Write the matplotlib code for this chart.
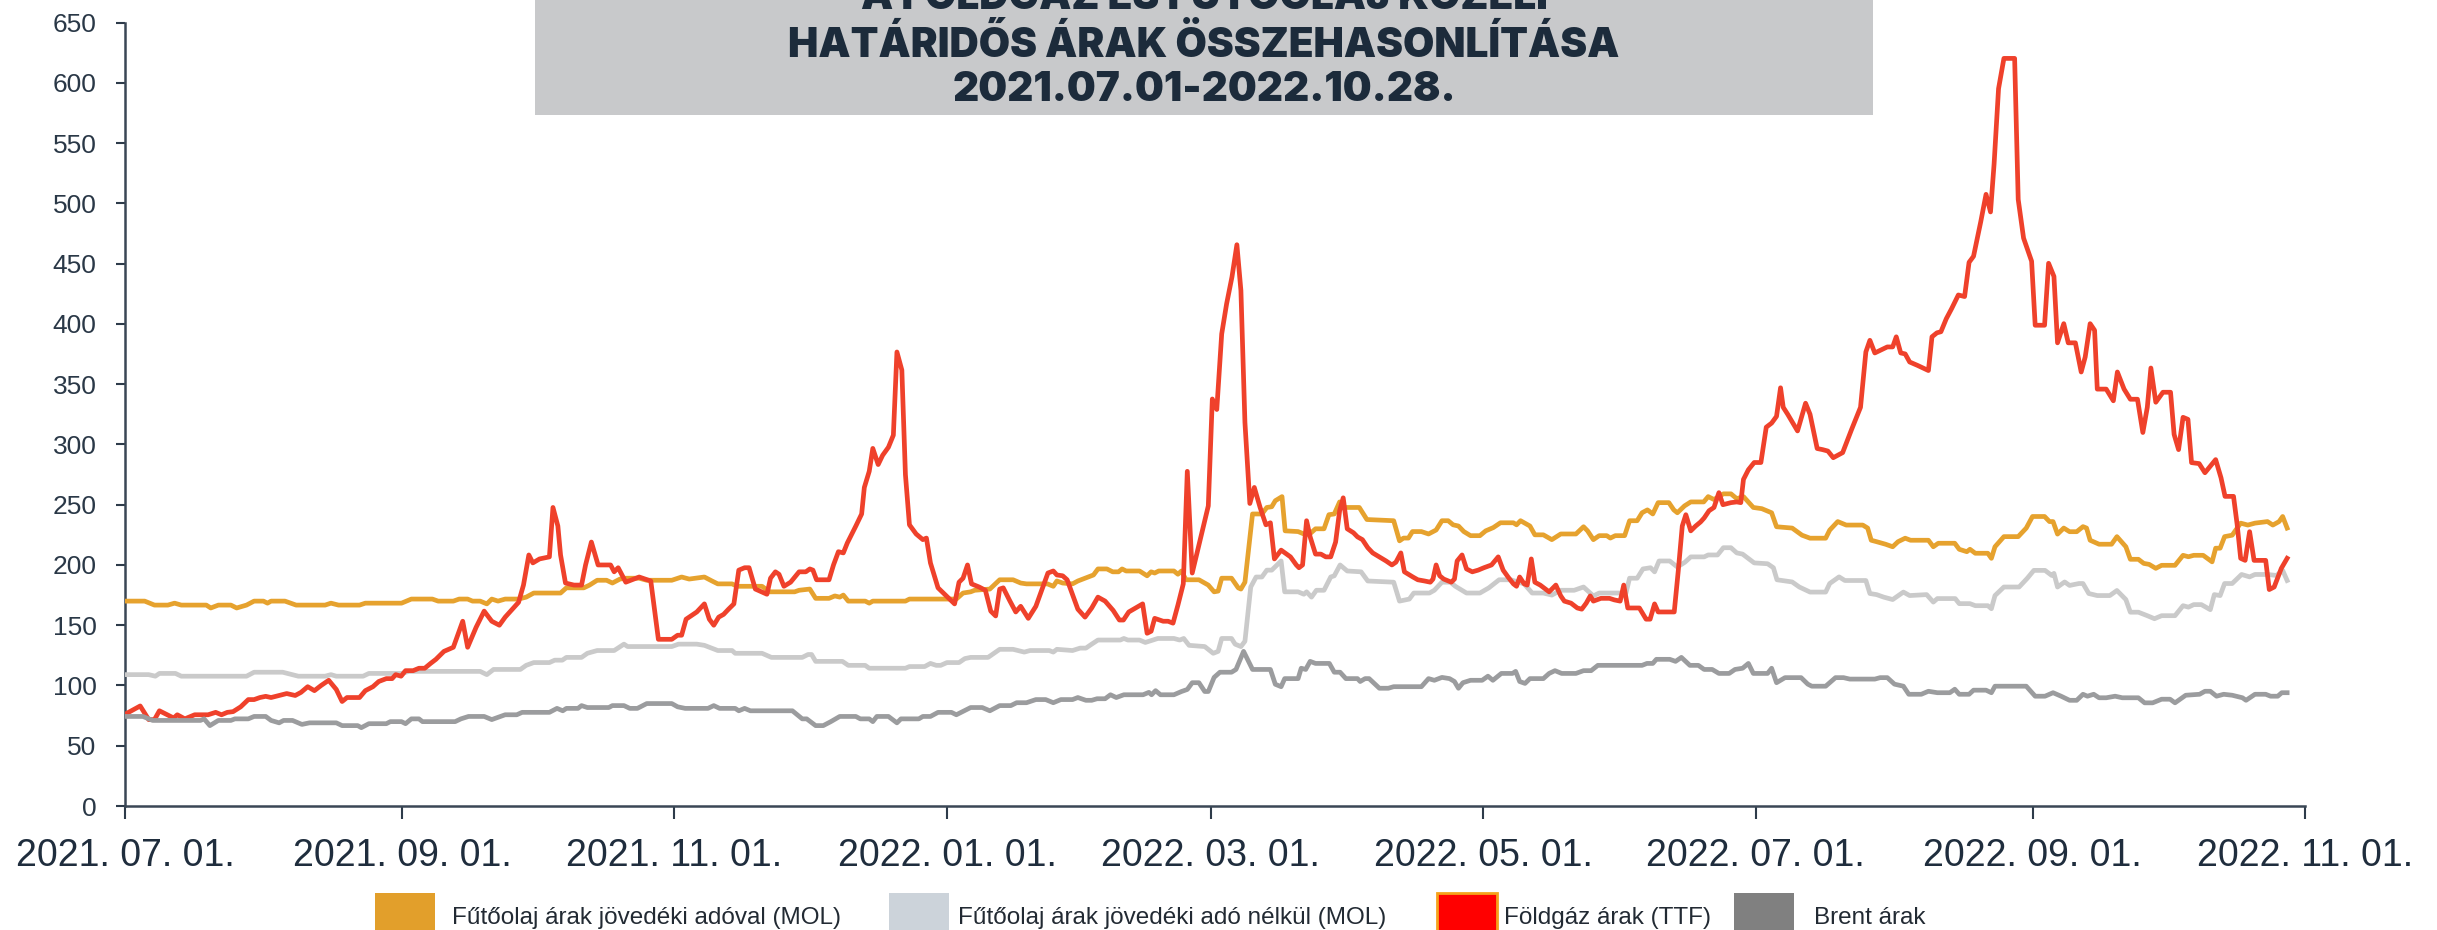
import numpy as np
import matplotlib
matplotlib.use('Agg')
import matplotlib.pyplot as plt
from matplotlib.patches import Rectangle
from matplotlib import font_manager

# x values are days since 2021-07-01
start = np.datetime64('2021-07-01')
tick_dates = ['2021-07-01', '2021-09-01', '2021-11-01', '2022-01-01', '2022-03-01',
              '2022-05-01', '2022-07-01', '2022-09-01', '2022-11-01']
tick_labels = ['2021. 07. 01.', '2021. 09. 01.', '2021. 11. 01.', '2022. 01. 01.', '2022. 03. 01.',
               '2022. 05. 01.', '2022. 07. 01.', '2022. 09. 01.', '2022. 11. 01.']
y_ticks = list(range(0, 651, 50))

title_lines = ['A FÖLDGÁZ ÉS FŰTŐOLAJ KÖZELI',
               'HATÁRIDŐS ÁRAK ÖSSZEHASONLÍTÁSA',
               '2021.07.01-2022.10.28.']

labels = ['Fűtőolaj árak jövedéki adóval (MOL)',
          'Fűtőolaj árak jövedéki adó nélkül (MOL)',
          'Földgáz árak (TTF)',
          'Brent árak']

# (day, value) vertices
oil_tax = [(0, 170), (4.4, 170), (6.6, 166.7), (9.6, 166.7), (11.1, 168.3), (12.6, 166.7), (18.2, 166.7),
           (19.2, 164.3), (20.9, 166.7), (23.7, 166.7), (25.0, 164.3), (27.2, 166.7), (28.9, 170), (31.0, 170),
           (31.9, 168.3), (32.7, 170), (35.8, 170), (38.3, 166.7), (44.8, 166.7), (46.1, 168.3), (47.8, 166.7),
           (52.5, 166.7), (53.8, 168.3), (61.9, 168.3), (64.1, 171.7), (68.8, 171.7), (70.1, 170), (73.5, 170),
           (74.8, 171.7), (76.7, 171.7), (77.8, 170), (79.5, 170), (81.0, 167.7), (82.1, 171.7), (83.5, 170),
           (85.1, 171.7), (88.1, 171.7), (89.8, 173.3), (91.5, 176.7), (97.5, 176.7), (98.8, 181), (102.7, 181),
           (104.0, 183.3), (105.7, 187.3), (107.8, 187.3), (109.1, 185), (110.8, 188.3), (112.1, 189), (115.1, 189),
           (116.8, 187.3), (122.4, 187.3), (124.6, 190), (126.3, 188.3), (129.7, 190), (131.4, 186.7),
           (132.7, 184.3), (135.9, 184.3), (137.0, 182.3), (142.6, 182.3), (144.3, 177.7), (149.9, 177.7),
           (150.9, 179), (153.3, 180), (154.6, 172.3), (157.6, 172.3), (158.9, 174.3), (160.0, 173.3),
           (160.8, 175), (161.9, 170), (165.7, 170), (166.6, 168.3), (167.4, 170), (174.7, 170), (175.6, 171.7),
           (186.1, 171.7), (187.6, 176.7), (189.3, 177.7), (190.2, 179), (193.6, 180), (195.8, 187.7),
           (198.8, 187.7), (200.5, 185), (201.8, 184.3), (206.5, 184.3), (207.8, 182.3), (208.6, 186.7),
           (209.9, 185), (212.1, 184.3), (213.3, 186.7), (216.8, 191.7), (217.8, 196.7), (219.8, 196.7),
           (221.1, 194.3), (222.4, 194.3), (223.2, 196.7), (224.1, 195), (227.1, 195), (228.8, 191),
           (229.7, 194.3), (230.5, 193.3), (231.4, 195), (234.8, 195), (235.7, 192.3), (236.5, 195),
           (237.5, 187.7), (240.4, 187.7), (242.5, 183.3), (243.8, 177.7), (244.7, 178.3), (245.5, 189),
           (247.7, 189), (249.2, 181), (249.8, 180), (250.7, 185.7), (252.4, 242.3), (254.5, 242.3),
           (255.6, 247.7), (256.7, 248.3), (257.5, 253.3), (259.0, 256.7), (259.7, 228.3), (262.6, 227.7),
           (263.9, 225.7), (265.2, 225.7), (266.5, 230), (268.4, 230), (269.5, 241.7), (270.7, 242.3),
           (271.9, 252.3), (273.1, 247.7), (276.3, 247.7), (278.0, 237.7), (284.0, 236.7), (285.3, 220),
           (286.2, 222.3), (287.3, 222.3), (288.2, 227.7), (290.2, 227.7), (291.8, 225.7), (293.5, 229),
           (294.8, 236.7), (296.2, 236.7), (297.3, 233.3), (298.5, 232.3), (299.7, 227.7), (301.2, 224.3),
           (303.3, 224.3), (304.6, 228.3), (306.3, 231), (307.9, 235), (310.8, 235), (311.5, 233.3),
           (312.4, 236.7), (314.5, 232.3), (315.6, 225), (317.5, 225), (319.4, 221), (321.4, 225.7),
           (324.8, 225.7), (326.5, 231.7), (327.4, 228.3), (328.7, 221), (330.0, 224.3), (331.7, 224.3),
           (332.5, 222.3), (333.6, 224.3), (335.7, 224.3), (336.8, 236.7), (338.5, 236.7), (339.6, 243.3),
           (340.8, 245.7), (342.0, 242.3), (343.2, 251.7), (345.6, 251.7), (346.7, 245.7), (347.5, 243.3),
           (349.1, 249), (350.5, 252.3), (353.4, 252.3), (354.4, 256.7), (355.7, 254.3), (357.8, 259),
           (359.5, 259), (360.8, 255), (362.3, 256.7), (364.5, 247.7), (366.4, 246.7), (368.6, 243.3),
           (369.7, 231.7), (373.2, 230.6), (375.4, 224.7), (377.2, 222.2), (380.7, 222.2), (381.6, 228.9),
           (383.4, 236), (385.3, 233.1), (389.0, 233.1), (390.1, 230.6), (390.9, 220.5), (392.1, 219.3),
           (394.1, 217.2), (395.7, 215.1), (396.9, 219.3), (398.5, 222.2), (399.7, 220.5), (403.7, 220.5),
           (404.8, 215.1), (405.9, 218), (409.6, 218), (410.6, 213), (412.3, 211), (413.0, 213), (414.2, 209.7),
           (417.0, 209.7), (417.8, 205.5), (418.6, 215.1), (420.6, 223.5), (423.8, 223.5), (425.6, 230.6),
           (427.0, 240.2), (429.7, 240.2), (430.8, 236), (431.6, 236), (432.6, 225.6), (434.0, 230.6),
           (435.3, 227.6), (436.9, 227.6), (438.3, 231.8), (439.1, 230.6), (439.9, 220.5), (441.9, 217.2),
           (444.7, 217.2), (445.9, 223.5), (447.9, 215.1), (448.9, 204.7), (450.7, 204.7), (451.9, 201.3),
           (453.1, 200.5), (454.6, 197.2), (455.9, 199.7), (458.9, 199.7), (460.7, 208), (461.9, 206.8),
           (463.1, 208), (465.2, 208), (467.2, 202.6), (468.0, 213.9), (469.0, 213.9), (470.0, 223.5),
           (471.7, 224.7), (473.6, 234.7), (475.2, 233.1), (476.8, 234.7), (479.6, 236), (480.8, 233.1),
           (482.2, 236), (483.0, 240.2), (484.0, 230.6)]

oil_notax = [(0, 109), (5.3, 109), (6.8, 107.7), (7.7, 110), (11.3, 110), (12.6, 107.7), (27.2, 107.7),
             (28.9, 111), (35.3, 111), (38.8, 107.7), (44.8, 107.7), (46.1, 109), (47.3, 107.7), (53.3, 107.7),
             (54.6, 110), (61.9, 110), (63.6, 111.7), (79.5, 111.7), (81.0, 109), (82.5, 113.3), (88.5, 113.3),
             (89.8, 116.7), (91.5, 119), (95.0, 119), (96.2, 121), (97.9, 121), (98.8, 123.3), (102.2, 123.3),
             (103.5, 126.7), (105.7, 129), (109.5, 129), (111.7, 134.3), (112.5, 132.3), (122.4, 132.3),
             (123.9, 134.3), (128.0, 134.3), (129.7, 133.3), (132.7, 129), (135.9, 129), (136.6, 126.7),
             (142.6, 126.7), (144.7, 123.3), (151.6, 123.3), (152.9, 125.7), (153.7, 125.7), (154.6, 120),
             (160.6, 120), (161.9, 116.7), (165.7, 116.7), (166.6, 114.3), (174.7, 114.3), (175.6, 115.7),
             (179.0, 115.7), (180.3, 118.3), (181.6, 116.7), (182.6, 116.7), (184.0, 119), (186.7, 119),
             (188.0, 122.3), (189.3, 123.3), (193.2, 123.3), (195.8, 130), (198.8, 130), (201.3, 127.7),
             (202.6, 129), (206.9, 129), (207.8, 127.7), (208.6, 130), (212.1, 129), (213.8, 131), (215.1, 131),
             (216.4, 134.3), (217.8, 137.7), (222.8, 137.7), (223.6, 139), (224.5, 137.7), (227.1, 137.7),
             (228.4, 135.7), (231.2, 139), (234.8, 139), (236.1, 137.7), (237.0, 139), (238.2, 133.3),
             (241.7, 132.3), (243.6, 126.7), (244.7, 128.3), (245.5, 139), (247.7, 139), (248.5, 134.3),
             (249.8, 132.3), (250.7, 136.7), (252.0, 181.7), (253.2, 190), (254.5, 190), (255.6, 195.7),
             (256.7, 195.7), (258.8, 203.3), (259.6, 177.7), (262.6, 177.7), (263.9, 175.7), (264.5, 177.7),
             (265.6, 173.3), (266.7, 179), (268.4, 179), (269.9, 190), (270.7, 191), (272.0, 200), (273.6, 195),
             (276.7, 194.3), (278.2, 186.7), (284.0, 185.7), (285.3, 170), (287.5, 171.7), (288.5, 176.7),
             (292.0, 176.7), (293.1, 179), (294.8, 185.7), (296.7, 185.7), (297.8, 182.3), (300.3, 176.7),
             (303.3, 176.7), (305.3, 181), (307.6, 187.7), (310.2, 187.7), (313.2, 184.3), (315.0, 176.7),
             (317.5, 176.7), (319.4, 175), (321.4, 179), (324.4, 179), (326.5, 181.7), (328.7, 174.3),
             (330.0, 176.7), (336.0, 176.7), (336.8, 189), (338.5, 189), (339.8, 196.7), (341.5, 197.7),
             (342.4, 194.3), (343.4, 203.3), (345.8, 203.3), (347.5, 198.3), (349.2, 202.3), (350.5, 206.7),
             (353.5, 206.7), (354.4, 208.3), (356.5, 208.3), (357.8, 214.3), (359.5, 214.3), (360.8, 210),
             (362.1, 209), (364.7, 201.7), (367.7, 201), (369.0, 197.7), (369.8, 187.7), (373.2, 185.9),
             (374.8, 181.7), (377.2, 177.5), (380.7, 177.5), (381.6, 184.6), (383.7, 190.1), (385.0, 187.1),
             (389.7, 187.1), (390.6, 176.3), (392.1, 175.4), (393.7, 173.3), (395.7, 171.3), (397.3, 175.4),
             (398.1, 177.5), (399.5, 174.6), (403.3, 175.4), (404.8, 169.2), (405.7, 172.1), (409.7, 172.1),
             (410.6, 167.9), (413.0, 167.9), (414.2, 166.2), (417.0, 166.2), (417.8, 163.7), (418.6, 174.6),
             (420.6, 181.7), (424.0, 181.7), (425.8, 188.8), (427.3, 195.5), (429.8, 195.5), (431.3, 191.3),
             (431.8, 193), (432.6, 181.7), (434.2, 185.9), (435.3, 183), (437.4, 184.6), (438.3, 184.6),
             (439.6, 176.3), (441.5, 174.6), (444.3, 174.6), (445.9, 178.8), (447.9, 171.3), (448.9, 160.8),
             (450.7, 160.8), (452.7, 157.9), (454.3, 155.4), (455.9, 157.9), (458.9, 157.9), (460.7, 166.2),
             (461.9, 165), (463.1, 167.1), (464.8, 167.1), (466.8, 162.9), (467.7, 175.4), (469.0, 174.6),
             (470.0, 184.6), (471.7, 184.6), (473.8, 192.1), (475.6, 190.1), (476.8, 192.1), (479.6, 192.1),
             (481.6, 191.3), (483.0, 195.5), (484.0, 187.1)]

ttf = [(0.3, 76.7), (3.4, 83), (5.3, 71.7), (6.6, 71.7), (7.7, 79), (10.9, 73), (11.7, 75.7), (13.4, 72.3),
       (15.6, 75.7), (18.6, 75.7), (20.3, 77.7), (21.6, 75.7), (22.9, 77.7), (24.2, 78.3), (25.9, 82.3),
       (27.6, 88.3), (28.9, 88.3), (30.2, 90), (31.5, 91), (32.7, 90), (34.5, 91.7), (36.2, 93.3), (38.1, 91.7),
       (39.4, 94.3), (40.9, 99), (42.4, 95.7), (43.9, 100), (45.6, 104.3), (47.3, 96.7), (48.6, 86.7),
       (49.7, 90), (52.5, 90), (53.8, 95.7), (55.5, 99), (56.8, 103.3), (58.5, 105.7), (59.8, 105.7),
       (60.6, 109), (61.8, 107.7), (62.8, 112.3), (64.5, 112.3), (65.8, 114.3), (67.1, 114.3), (68.4, 118.3),
       (69.6, 121.7), (71.4, 128.3), (73.5, 131.7), (75.6, 153.3), (76.7, 131.7), (78.6, 148.3), (80.4, 161.7),
       (82.1, 153.3), (83.8, 150), (85.1, 156.7), (88.1, 169), (89.2, 183.3), (90.4, 208.3), (91.3, 201.7),
       (92.8, 205), (95.0, 206.7), (95.8, 247.7), (96.9, 232.3), (97.5, 208.3), (98.6, 185), (100.5, 183.3),
       (102.2, 183.3), (103.1, 200), (104.4, 219), (105.9, 200), (108.7, 200), (109.5, 194.3), (110.4, 197.7),
       (112.1, 185.7), (115.1, 190), (117.7, 186.7), (119.4, 138.3), (122.4, 138.3), (123.7, 141.7),
       (124.6, 141.7), (125.6, 155), (128.0, 161), (129.7, 167.7), (130.8, 155), (131.8, 150), (132.9, 156.7),
       (134.0, 159), (135.1, 163.3), (136.3, 167.7), (137.4, 195.7), (138.7, 197.7), (139.7, 197.7),
       (141.1, 180), (143.7, 175.7), (144.5, 189), (145.6, 194.3), (146.4, 192.3), (147.5, 182.3),
       (149.0, 185.7), (150.9, 194.3), (152.4, 194.3), (153.3, 196.7), (154.0, 195.7), (154.8, 187.7),
       (157.6, 187.7), (158.6, 200), (159.7, 211), (160.8, 210), (161.7, 218.3), (163.6, 232.3),
       (164.9, 242.3), (165.5, 264.3), (166.6, 277.7), (167.4, 296.7), (168.6, 283.3), (169.6, 291),
       (170.9, 297.7), (172.0, 307.7), (172.8, 376.7), (173.9, 361.7), (174.7, 275), (175.6, 233.3),
       (177.1, 225.7), (178.6, 221), (179.4, 222.3), (180.3, 201.7), (182.0, 181), (185.7, 167.7),
       (186.7, 185.7), (187.6, 189), (188.6, 200), (189.5, 184.3), (191.2, 181.7), (192.6, 179),
       (193.8, 161.7), (194.9, 157.7), (195.8, 180), (196.6, 181), (198.1, 170), (199.4, 161), (200.5, 165.7),
       (202.2, 155.7), (203.9, 165.7), (205.2, 179), (206.6, 193.3), (207.8, 195), (208.6, 191.7),
       (209.9, 191), (210.9, 187.7), (213.3, 163.3), (214.9, 156.7), (216.4, 164.3), (217.8, 173.3),
       (219.4, 170), (221.2, 162.3), (222.6, 154.3), (223.5, 154.3), (224.7, 161), (227.8, 167.7),
       (228.8, 143.3), (229.7, 145), (230.5, 155.7), (232.4, 153.3), (233.5, 153.3), (234.6, 151.7),
       (235.7, 166.7), (236.9, 184.3), (237.8, 277.7), (238.9, 193.3), (241.0, 225.7), (242.5, 249),
       (243.4, 337.7), (244.4, 329), (245.5, 391.7), (246.6, 416.7), (247.8, 439), (248.9, 465.7),
       (249.8, 427.7), (250.7, 318.3), (251.8, 251), (252.8, 264.3), (254.1, 247.7), (255.4, 233.3),
       (256.4, 235), (257.3, 205), (258.8, 212.3), (260.9, 206.7), (262.2, 200), (262.8, 197.7), (263.6, 200),
       (264.5, 236.7), (265.3, 223.3), (266.5, 209), (267.7, 209), (268.8, 206.7), (269.9, 206.7), (271.0, 219),
       (271.9, 245), (272.7, 255.7), (273.6, 230), (275.0, 226.7), (275.9, 223.3), (277.0, 221),
       (278.2, 214.3), (279.3, 210), (280.8, 206.7), (282.3, 203.3), (283.6, 200), (284.5, 202.3),
       (285.6, 210), (286.4, 194.3), (288.3, 190), (289.4, 187.7), (290.9, 186.7), (292.2, 185.7),
       (292.8, 188.3), (293.5, 200), (294.3, 191), (295.2, 188.3), (296.9, 185.7), (297.6, 188.3),
       (298.2, 203.3), (299.3, 208.3), (300.3, 196.7), (301.6, 194.3), (302.9, 195.7), (304.2, 197.7),
       (305.9, 200), (307.4, 206.7), (308.5, 195.7), (309.6, 190), (310.8, 184.3), (311.5, 182.3),
       (312.2, 190), (313.2, 184.3), (313.9, 183.3), (314.8, 205), (315.6, 185.7), (316.8, 183.3),
       (318.8, 177.7), (320.3, 183.3), (321.4, 174.3), (322.2, 170), (323.7, 168.3), (325.1, 164.3),
       (326.1, 163.3), (327.1, 168.3), (328.0, 174.3), (328.7, 170), (330.4, 172.3), (332.3, 172.3),
       (333.4, 171), (334.7, 170), (335.5, 183.3), (336.4, 164.3), (339.0, 164.3), (340.5, 155), (341.4, 155),
       (342.4, 167.7), (343.2, 161), (346.8, 161), (347.7, 195), (348.6, 232.3), (349.4, 241.7),
       (350.5, 228.3), (351.6, 232.3), (352.7, 235.7), (353.5, 239), (354.6, 245), (355.7, 247.7),
       (356.8, 260), (357.7, 250), (359.5, 251.7), (360.8, 252.3), (361.7, 251.7), (362.3, 271), (363.4, 279),
       (364.7, 285), (366.2, 285), (367.4, 314.3), (368.6, 317.7), (369.7, 323.3), (370.6, 347),
       (371.2, 330.8), (372.2, 325), (374.4, 311.2), (376.2, 334.2), (377.2, 325), (378.8, 296.6),
       (380.0, 295.7), (381.2, 294.5), (382.4, 289), (384.5, 293.2), (386.5, 312.4), (388.5, 330.8),
       (389.7, 376.8), (390.6, 386.4), (391.7, 375.9), (394.5, 380.9), (395.7, 380.9), (396.5, 389.3),
       (397.5, 375.9), (398.5, 375.1), (399.5, 368.4), (401.3, 365.5), (403.7, 361.3), (404.5, 389.3),
       (405.6, 392.6), (406.5, 393.5), (407.7, 404.3), (408.9, 412.7), (410.4, 424), (411.8, 422.7),
       (412.8, 451.1), (413.8, 456.1), (415.4, 484.5), (416.6, 507.5), (417.6, 492.9), (418.4, 532.6),
       (419.4, 595.2), (420.6, 620.3), (423.0, 620.3), (423.8, 503.3), (425.0, 471.2), (426.8, 452),
       (427.6, 398.9), (429.7, 398.9), (430.6, 450.3), (431.8, 439.4), (432.6, 384.3), (434.0, 400.2),
       (435.0, 384.3), (436.6, 384.3), (437.9, 360.1), (438.8, 372.6), (439.9, 400.2), (440.9, 394.7),
       (441.5, 345.9), (443.5, 345.9), (445.1, 336.2), (446.0, 360.1), (447.5, 345.9), (448.9, 337.5),
       (450.5, 337.5), (451.7, 309.9), (452.7, 330.8), (453.5, 363.4), (454.6, 335), (456.2, 343.3),
       (457.9, 343.3), (458.7, 308.3), (459.7, 295.7), (460.7, 322.5), (461.8, 320.8), (462.6, 284.9),
       (464.3, 284.1), (465.6, 276.5), (466.8, 282), (468.0, 287.4), (469.2, 272.3), (470.1, 256.9),
       (472.0, 256.9), (472.8, 233.9), (473.6, 205.5), (474.6, 203.8), (475.6, 227.6), (476.6, 203.8),
       (479.2, 203.8), (480.0, 179.6), (481.1, 181.7), (482.7, 197.2), (484.0, 205.5)]

brent = [(0, 74.3), (4.0, 74.3), (6.2, 71), (16.9, 71), (17.7, 72.3), (19.0, 66.7), (20.9, 71), (23.7, 71),
         (24.6, 72.3), (27.6, 72.3), (28.9, 74.3), (31.5, 74.3), (32.7, 71), (34.5, 69), (35.5, 71), (37.5, 71),
         (39.6, 67.7), (41.3, 69), (47.3, 69), (48.6, 66.7), (52.1, 66.7), (52.9, 65), (54.6, 68.3),
         (58.5, 68.3), (59.4, 70), (61.9, 70), (62.8, 68.3), (64.1, 72.3), (65.8, 72.3), (66.6, 70), (73.9, 70),
         (75.2, 72.3), (76.9, 74.3), (80.4, 74.3), (82.1, 71.7), (85.1, 75.7), (87.7, 75.7), (88.9, 77.7),
         (95.0, 77.7), (96.7, 81), (98.0, 79), (98.8, 81), (101.4, 81), (102.2, 83.3), (103.5, 81.7),
         (108.3, 81.7), (109.1, 83.3), (111.7, 83.3), (113.0, 81), (114.7, 81), (116.8, 85), (122.4, 85),
         (123.7, 82.3), (125.4, 81), (128.0, 81), (130.5, 81), (131.8, 83.3), (133.1, 81), (136.6, 81),
         (137.4, 79), (138.7, 81), (140.0, 79), (149.4, 79), (151.6, 72.3), (152.6, 72.3), (154.6, 66.7),
         (156.3, 66.7), (158.0, 70), (160.0, 74.3), (163.6, 74.3), (164.6, 72.3), (166.6, 72.3), (167.4, 70),
         (168.3, 74.3), (170.9, 74.3), (172.8, 69), (173.7, 72.3), (177.7, 72.3), (178.6, 74.3), (180.3, 74.3),
         (182.0, 77.7), (185.0, 77.7), (186.1, 75.7), (189.3, 81.7), (191.9, 81.7), (193.6, 79), (195.8, 83.3),
         (198.3, 83.3), (199.6, 85.7), (201.8, 85.7), (203.9, 88.3), (206.1, 88.3), (207.8, 85.7),
         (209.5, 88.3), (212.1, 88.3), (213.3, 90), (215.1, 87.7), (216.4, 87.7), (217.6, 89), (219.4, 89),
         (220.6, 92.3), (221.9, 90), (223.6, 92.3), (227.9, 92.3), (229.2, 94.3), (229.8, 92.3), (230.7, 95.7),
         (231.8, 92.3), (234.8, 92.3), (236.5, 95), (237.8, 96.7), (238.9, 102.3), (240.4, 102.3), (241.7, 95),
         (242.5, 95), (243.8, 106.7), (245.1, 111), (247.7, 111), (248.7, 113.3), (250.4, 128.3),
         (252.4, 113.3), (256.4, 113.3), (257.5, 101), (258.8, 99), (259.6, 105.7), (262.6, 105.7),
         (263.3, 114.3), (264.3, 113.3), (265.3, 120), (266.5, 118.3), (269.6, 118.3), (270.7, 111), (272.0, 111),
         (273.3, 105.7), (275.9, 105.7), (276.5, 103.3), (277.6, 105.7), (278.5, 105.7), (280.8, 97.7),
         (282.8, 97.7), (284.0, 99), (290.2, 99), (291.8, 105.7), (293.1, 104.3), (294.8, 106.7), (296.5, 105.7),
         (297.6, 103.3), (298.5, 97.7), (299.5, 102.3), (301.2, 104.3), (303.8, 104.3), (305.1, 107.7),
         (306.2, 104.3), (308.1, 110), (310.6, 110), (311.3, 111.7), (312.2, 103.3), (313.4, 101.7),
         (314.5, 105.7), (317.5, 105.7), (318.8, 110), (320.1, 112.3), (321.6, 110), (324.8, 110),
         (326.5, 112.3), (328.2, 112.3), (329.7, 116.7), (339.6, 116.7), (340.7, 118.3), (342.0, 118.3),
         (342.8, 121.7), (345.8, 121.7), (347.1, 120), (348.4, 123.3), (350.3, 116.7), (352.2, 116.7),
         (353.5, 113.3), (355.3, 113.3), (356.8, 110), (359.1, 110), (360.4, 113.3), (362.1, 114.3),
         (363.4, 118.3), (364.5, 110), (367.7, 110), (368.6, 114.3), (369.7, 102.3), (371.6, 106.5),
         (375.2, 106.5), (376.7, 101.1), (377.6, 99.4), (380.7, 99.4), (382.9, 106.5), (384.7, 106.5),
         (386.1, 105.3), (391.7, 105.3), (392.9, 106.5), (394.5, 106.5), (396.1, 101.1), (398.1, 99.4),
         (399.3, 92.7), (402.1, 92.7), (403.7, 95.2), (405.7, 94), (408.5, 94), (409.6, 96.9), (410.6, 92.7),
         (412.8, 92.7), (413.8, 96.1), (416.6, 96.1), (417.8, 94), (418.6, 99.4), (425.6, 99.4), (427.6, 91.1),
         (429.8, 91.1), (431.6, 94), (433.4, 91.1), (435.3, 87.7), (436.9, 87.7), (438.3, 92.7), (439.3, 91.1),
         (440.7, 92.7), (441.9, 89.8), (443.5, 89.8), (445.5, 91.1), (447.1, 89.8), (450.7, 89.8),
         (452.1, 85.6), (453.9, 85.6), (455.9, 88.6), (457.8, 88.6), (458.9, 85.6), (461.3, 91.9),
         (464.4, 92.7), (465.6, 95.2), (466.8, 95.2), (468.2, 91.1), (469.8, 92.7), (471.7, 91.9),
         (474.0, 89.8), (474.8, 87.7), (476.8, 92.7), (479.2, 92.7), (480.3, 91.1), (481.9, 91.1),
         (482.8, 94), (484.0, 94)]

line_colors = ['#E6A22E', '#CACACA', '#EF412B', '#9B9C9E']
legend_colors = ['#E29F2B', '#CCD3DA', '#FF0000', '#808080']
text_col = '#1F2D3D'

# pick the heaviest installed sans for the title (reference uses an Arial Black look)
title_font, title_weight = 'DejaVu Sans', 'bold'
for f in font_manager.fontManager.ttflist:
    if f.name in ('Roboto', 'Lato', 'Inter', 'Noto Sans', 'Open Sans') and f.style == 'normal':
        w = f.weight if isinstance(f.weight, int) else 400
        if w >= 800:
            title_font, title_weight = f.name, w
            break

W, H = 2437, 930
fig = plt.figure(figsize=(W / 100, H / 100), dpi=100)
ax = fig.add_axes([125 / W, 1 - 806 / H, (2305 - 125) / W, (806 - 22.6) / H])
ax.set_facecolor('none')

series = [oil_tax, oil_notax, ttf, brent]
for data, col in zip(series, line_colors):
    d, v = zip(*data)
    ax.plot(d, v, color=col, lw=3.4, solid_joinstyle='round', zorder=3)

tick_pos = (np.array(tick_dates, dtype='datetime64[D]') - start).astype(int)
ax.set_xlim(0, tick_pos[-1])
ax.set_ylim(0, 650)
ax.set_xticks(tick_pos)
ax.set_xticklabels(tick_labels, fontfamily='Liberation Sans', fontsize=27, color=text_col)
ax.set_yticks(y_ticks)
ax.set_yticklabels([str(t) for t in y_ticks], fontfamily='Liberation Sans', fontsize=19, color='#2A3847')
ax.tick_params(axis='x', length=9, width=1.5, color='#2E3B4A', pad=14, direction='out')
ax.tick_params(axis='y', length=6.5, width=1.5, color='#2E3B4A', pad=14, direction='out')
for s in ['top', 'right']:
    ax.spines[s].set_visible(False)
for s in ['left', 'bottom']:
    ax.spines[s].set_color('#3A4755')
    ax.spines[s].set_linewidth(1.8)

# title box
fig.add_artist(Rectangle((535 / W, 1 - 115.5 / H), (1873 - 535) / W, 120 / H,
                         transform=fig.transFigure, facecolor='#C8C9CB', edgecolor='none', zorder=1))
title_texts = []
for txt, yc in zip(title_lines, [-3, 45, 90]):
    t = fig.text((535 + 1873) / 2 / W, 1 - yc / H, txt, ha='center', va='center', fontsize=26,
                 fontweight=title_weight, fontfamily=title_font, color='#1C2B3B', zorder=2)
    title_texts.append(t)

# scale the title so the middle line is about 834 px wide, as in the reference
renderer = fig.canvas.get_renderer()
wid = title_texts[1].get_window_extent(renderer).width
for t in title_texts:
    t.set_fontsize(26 * 834 / wid)

# legend
sq_x = [375, 889, 1437, 1734]
txt_x = [452, 958, 1504, 1814]
txt_w = [389, 430, 194, 109]
for i in range(4):
    ec = '#F5A21B' if i == 2 else 'none'
    fig.add_artist(Rectangle((sq_x[i] / W, -10 / H), 60 / W, (930 - 893 + 10) / H,
                             transform=fig.transFigure, facecolor=legend_colors[i], edgecolor=ec,
                             lw=2, zorder=2))
    fig.text(txt_x[i] / W, 1 - 924 / H, labels[i], ha='left', va='baseline', fontsize=17.5,
             fontfamily='Liberation Sans', color='#222A33')

fig.savefig('out.png', dpi=100)
